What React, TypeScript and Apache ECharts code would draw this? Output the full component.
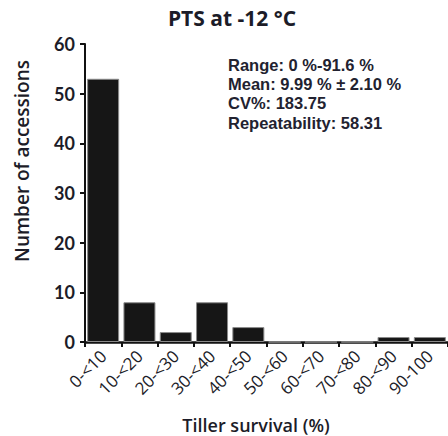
import React, { useEffect, useRef } from "react";
import * as echarts from "echarts";

const categories = ["0-<10", "10-<20", "20-<30", "30-<40", "40-<50", "50-<60", "60-<70", "70-<80", "80-<90", "90-100"];
const counts = [53, 8, 2, 8, 3, 0, 0, 0, 1, 1];
const yTicks = { min: 0, max: 60, interval: 10 };
const statsLines = [
  "Range: 0 %-91.6 %",
  "Mean: 9.99 % \u00b1 2.10 %",
  "CV%: 183.75",
  "Repeatability: 58.31",
];

export default function App() {
  const ref = useRef<HTMLDivElement>(null);
  useEffect(() => {
    if (!ref.current) return;
    const chart = echarts.init(ref.current, null, { renderer: "svg" });
    const textColor = "#1c1c28";
    chart.setOption({
      animation: false,
      backgroundColor: "#ffffff",
      title: {
        text: "PTS at -12 \u00b0C",
        left: 227,
        textAlign: "center",
        top: 2,
        textStyle: { fontFamily: "Open Sans", fontWeight: "bold", fontSize: 21, color: textColor },
      },
      grid: { left: 85, top: 44, width: 367, height: 298, containLabel: false },
      xAxis: {
        type: "category",
        data: categories,
        boundaryGap: true,
        axisLine: { show: true, lineStyle: { color: "#111", width: 2.5 } },
        axisTick: { show: true, length: 5, lineStyle: { color: "#111", width: 2 } },
        axisLabel: {
          rotate: 45,
          margin: 11,
          interval: 0,
          fontFamily: "Open Sans",
          fontSize: 17,
          color: textColor,
        },
        splitLine: { show: false },
      },
      yAxis: {
        type: "value",
        min: yTicks.min,
        max: yTicks.max,
        interval: yTicks.interval,
        axisLine: { show: true, lineStyle: { color: "#111", width: 2 } },
        axisTick: { show: true, length: 5, lineStyle: { color: "#111", width: 2 } },
        axisLabel: { margin: 10, fontFamily: "Lato", fontWeight: "bold", fontSize: 18, color: textColor },
        splitLine: { show: false },
      },
      series: [
        {
          type: "bar",
          data: counts,
          barWidth: 32,
          itemStyle: { color: "#161616", borderColor: "#8a8a8a", borderWidth: 1 },
        },
      ],
      graphic: [
        {
          type: "text",
          x: 22,
          y: 161,
          rotation: Math.PI / 2,
          style: {
            text: "Number of accessions",
            fontFamily: "Open Sans",
            fontWeight: 600,
            fontSize: 19,
            fill: textColor,
            align: "center",
            verticalAlign: "middle",
          },
        },
        {
          type: "text",
          x: 256,
          y: 425,
          style: {
            text: "Tiller survival (%)",
            fontFamily: "Open Sans",
            fontWeight: 600,
            fontSize: 18,
            fill: textColor,
            align: "center",
            verticalAlign: "middle",
          },
        },
        {
          type: "text",
          x: 228,
          y: 55,
          style: {
            text: statsLines.join("\n"),
            fontFamily: "Liberation Sans",
            fontWeight: "bold",
            fontSize: 16.5,
            lineHeight: 19.3,
            fill: "#222230",
            align: "left",
            verticalAlign: "top",
          },
        },
      ],
    });
    return () => chart.dispose();
  }, []);
  return (
    <div
      ref={ref}
      style={{ position: "fixed", left: 0, top: 0, width: 448, height: 436, overflow: "hidden" }}
    />
  );
}
